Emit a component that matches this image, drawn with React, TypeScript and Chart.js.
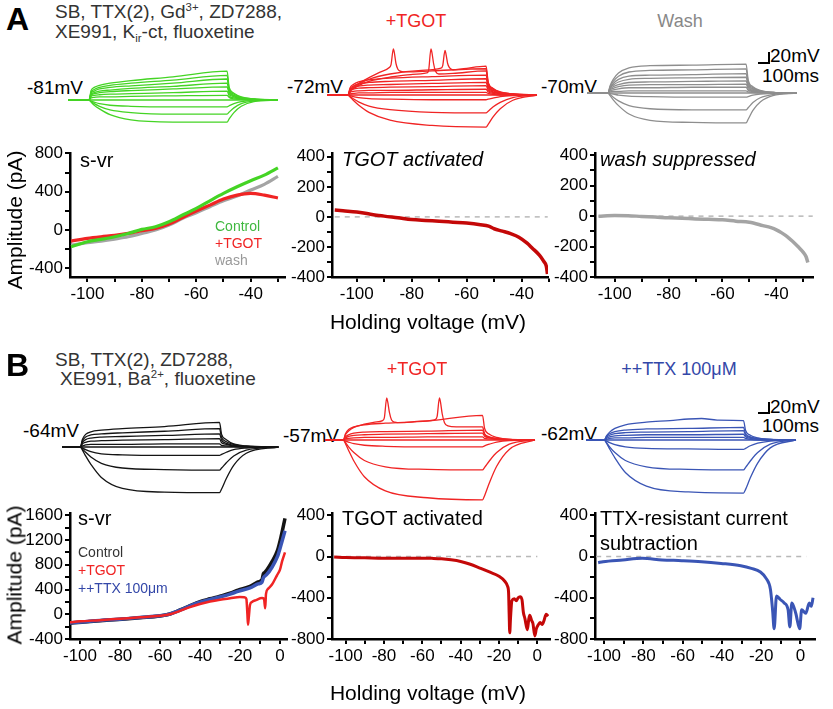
import React, { useEffect, useRef } from 'react';
import { Chart, registerables } from 'chart.js';
Chart.register(...registerables);

const FONT = "'Liberation Sans', Arial, Helvetica, sans-serif";
const PX_PER_MV = 0.525; // 20 mV scale bar = 10.5 px
const PX_PER_MS = 0.105; // 100 ms scale bar = 10.5 px

// ---------------- Voltage traces (deflection from holding potential, mV) ----------------
const tA = [0, 200, 220, 250, 300, 400, 600, 1000, 1515, 1535, 1580, 1650, 1770, 2000];

const greenTraces = [
  [0, 0, 18, 24, 28, 32, 37, 44, 55, 24, 13, 6, 2, 0],
  [0, 0, 15, 20, 24, 28, 32, 38, 47, 21, 11, 5, 2, 0],
  [0, 0, 13, 17, 21, 24, 27, 32, 40, 18, 9, 4, 1, 0],
  [0, 0, 11, 14, 17, 19, 22, 26, 32, 15, 8, 3, 1, 0],
  [0, 0, 9, 12, 14, 16, 18, 21, 25, 12, 6, 3, 1, 0],
  [0, 0, 7, 9, 10, 11, 12, 14, 17, 8, 4, 2, 0, 0],
  [0, 0, 4, 5, 6, 6, 7, 8, 9, 5, 2, 1, 0, 0],
  [0, 0, 0, 0, 0, 0, 0, 0, 0, 0, 0, 0, 0, 0],
  [0, 0, -2, -4, -7, -10, -12, -13, -13, -11, -7, -3, -1, 0],
  [0, 0, -3, -7, -12, -19, -24, -27, -27, -23, -15, -7, -2, 0],
  [0, 0, -4, -10, -17, -28, -38, -42, -42, -36, -24, -12, -3, 0],
];

const redATraces = [
  [0, 0, 14, 20, 25, 29, 32, 35, 38, 18, 9, 4, 1, 0],
  [0, 0, 12, 17, 21, 24, 26, 28, 31, 15, 8, 3, 1, 0],
  [0, 0, 10, 14, 17, 19, 20, 22, 24, 12, 6, 3, 1, 0],
  [0, 0, 8, 11, 13, 14, 15, 16, 18, 9, 5, 2, 0, 0],
  [0, 0, 5, 7, 8, 9, 9, 10, 11, 6, 3, 1, 0, 0],
  [0, 0, 2, 3, 4, 4, 5, 5, 5, 3, 1, 0, 0, 0],
  [0, 0, 0, 0, 0, 0, 0, 0, 0, 0, 0, 0, 0, 0],
  [0, 0, -1, -3, -5, -7, -8, -9, -9, -8, -6, -3, -1, 0],
  [0, 0, -3, -7, -13, -21, -28, -33, -34, -31, -23, -14, -5, 0],
  [0, 0, -4, -10, -19, -33, -48, -58, -61, -56, -42, -26, -10, 0],
];

const spikeA1T = [0, 200, 220, 250, 300, 400, 500, 590, 610, 632, 642, 657, 675, 705, 760, 1000, 1515, 1535, 1580, 1650, 1770, 2000];
const spikeA1V = [0, 0, 9, 15, 22, 33, 43, 52, 58, 88, 80, 60, 49, 45, 44, 46, 50, 23, 12, 5, 2, 0];
const spikeA2T = [0, 200, 220, 250, 300, 400, 600, 800, 950, 968, 990, 1000, 1015, 1032, 1065, 1200, 1515, 1535, 1580, 1650, 1770, 2000];
const spikeA2V = [0, 0, 7, 12, 18, 26, 34, 39, 42, 47, 88, 80, 60, 46, 40, 41, 46, 21, 11, 5, 2, 0];
const spikeA3T = [0, 200, 220, 250, 300, 400, 600, 900, 1085, 1102, 1124, 1134, 1149, 1166, 1200, 1300, 1515, 1535, 1580, 1650, 1770, 2000];
const spikeA3V = [0, 0, 8, 13, 20, 30, 40, 47, 51, 56, 85, 77, 60, 52, 48, 50, 55, 25, 13, 6, 2, 0];

const grayTraces = [
  [0, 0, 14, 26, 38, 48, 52, 53, 55, 25, 12, 5, 1, 0],
  [0, 0, 12, 22, 32, 40, 43, 44, 46, 21, 10, 4, 1, 0],
  [0, 0, 10, 18, 26, 32, 34, 35, 37, 17, 8, 3, 1, 0],
  [0, 0, 9, 15, 21, 26, 28, 29, 30, 14, 7, 3, 1, 0],
  [0, 0, 7, 12, 16, 20, 21, 22, 23, 11, 5, 2, 0, 0],
  [0, 0, 6, 9, 12, 15, 16, 16, 17, 8, 4, 2, 0, 0],
  [0, 0, 4, 6, 8, 10, 10, 11, 11, 5, 3, 1, 0, 0],
  [0, 0, 2, 3, 3, 4, 4, 4, 4, 2, 1, 0, 0, 0],
  [0, 0, 0, 0, 0, 0, 0, 0, 0, 0, 0, 0, 0, 0],
  [0, 0, -1, -2, -4, -6, -7, -8, -8, -7, -4, -2, -1, 0],
  [0, 0, -3, -8, -15, -24, -30, -32, -32, -28, -18, -9, -3, 0],
  [0, 0, -5, -13, -24, -40, -52, -56, -57, -50, -33, -17, -5, 0],
];

const tB = [0, 175, 195, 225, 275, 375, 575, 975, 1500, 1520, 1565, 1635, 1755, 2000];
const tBlack = [0, 175, 195, 225, 275, 375, 575, 975, 1500, 1520, 1565, 1635, 1755, 2060];

const blackTraces = [
  [0, 0, 15, 24, 29, 32, 35, 39, 47, 24, 14, 6, 2, 0],
  [0, 0, 12, 19, 23, 25, 27, 30, 35, 18, 10, 5, 1, 0],
  [0, 0, 9, 14, 17, 19, 20, 22, 25, 13, 7, 3, 1, 0],
  [0, 0, 6, 9, 11, 12, 13, 14, 16, 8, 5, 2, 1, 0],
  [0, 0, 2, 4, 5, 5, 5, 6, 6, 3, 2, 1, 0, 0],
  [0, 0, 0, 0, 0, 0, 0, 0, 0, 0, 0, 0, 0, 0],
  [0, 0, -2, -5, -9, -13, -15, -16, -16, -14, -10, -5, -2, 0],
  [0, 0, -4, -10, -19, -31, -40, -43, -44, -40, -30, -17, -6, 0],
  [0, 0, -6, -17, -33, -58, -79, -86, -87, -80, -60, -35, -12, 0],
];

const redBTraces = [
  [0, 0, 12, 20, 25, 29, 32, 36, 47, 22, 11, 5, 1, 0],
  [0, 0, 6, 10, 13, 15, 16, 17, 19, 10, 5, 2, 1, 0],
  [0, 0, 4, 7, 9, 10, 11, 12, 13, 7, 4, 2, 0, 0],
  [0, 0, 2, 3, 4, 5, 5, 6, 6, 3, 2, 1, 0, 0],
  [0, 0, 0, 0, 0, 0, 0, 0, 0, 0, 0, 0, 0, 0],
  [0, 0, -2, -4, -7, -10, -12, -13, -13, -11, -8, -4, -1, 0],
  [0, 0, -5, -13, -24, -39, -51, -56, -57, -52, -40, -24, -8, 0],
  [0, 0, -7, -20, -40, -70, -97, -110, -114, -106, -82, -50, -18, 0],
];
const spikeBT = [0, 175, 195, 225, 275, 375, 475, 548, 565, 588, 598, 614, 634, 665, 720, 850, 1000, 1050, 1068, 1090, 1100, 1116, 1138, 1170, 1250, 1500, 1520, 1565, 1635, 1755, 2000];
const spikeBV = [0, 0, 10, 17, 24, 30, 34, 37, 42, 80, 72, 52, 38, 34, 33, 35, 37, 39, 45, 80, 72, 50, 33, 27, 25, 25, 12, 6, 3, 1, 0];

const blueTopT = [0, 175, 195, 225, 275, 375, 575, 800, 975, 1100, 1250, 1500, 1520, 1565, 1635, 1755, 2000];
const blueTopV = [0, 0, 8, 15, 22, 29, 34, 37, 40, 41, 38, 37, 18, 9, 4, 1, 0];
const blueTraces = [
  [0, 0, 7, 12, 16, 19, 21, 22, 24, 12, 6, 3, 1, 0],
  [0, 0, 5, 9, 12, 14, 15, 16, 18, 9, 5, 2, 1, 0],
  [0, 0, 3, 6, 8, 9, 10, 10, 11, 6, 3, 1, 0, 0],
  [0, 0, 1, 3, 4, 4, 5, 5, 5, 3, 1, 0, 0, 0],
  [0, 0, 0, 0, 0, 0, 0, 0, 0, 0, 0, 0, 0, 0],
  [0, 0, -2, -5, -9, -13, -16, -17, -18, -16, -11, -6, -2, 0],
  [0, 0, -5, -13, -24, -39, -51, -56, -57, -52, -40, -24, -8, 0],
  [0, 0, -6, -17, -34, -62, -88, -99, -101, -94, -72, -44, -15, 0],
];

// ---------------- I-V data (holding voltage mV, amplitude pA) ----------------
const a1X = [-106, -100, -95, -90, -85, -80, -75, -70, -65, -60, -55, -50, -45, -40, -35, -30];
const a1Control = [-174, -122, -97, -70, -35, 7, 35, 87, 157, 226, 306, 383, 452, 515, 574, 650];
const a1TGOT = [-115, -87, -70, -56, -35, -7, 17, 63, 132, 198, 261, 324, 365, 383, 365, 335];
const a1Wash = [-157, -132, -115, -94, -70, -35, 0, 52, 122, 181, 244, 306, 355, 418, 477, 560];

const a2X = [-108, -105, -100, -95, -90, -85, -80, -75, -70, -65, -60, -55, -52, -50, -47, -44, -41, -38, -36, -34, -33, -32, -31, -30.6];
const a2Y = [45, 40, 32, 18, 5, -6, -18, -24, -29, -35, -41, -52, -62, -79, -95, -112, -135, -175, -210, -245, -267, -295, -330, -380];

const a3X = [-106, -100, -95, -90, -85, -80, -75, -70, -65, -60, -55, -50, -45, -42, -40, -38, -36, -34, -32, -30, -29, -28.3];
const a3Y = [0, 4, 3, -2, -6, -11, -14, -18, -21, -24, -33, -40, -62, -76, -90, -110, -134, -165, -200, -238, -265, -305];

const b1X = [-105, -99, -90, -79, -70, -60, -55, -50, -45, -40, -35, -30, -25, -21, -15, -11, -9, -8.3, -7.5, -6.7, -4, -1.3, 0.5, 2.5];
const b1Control = [-144, -128, -105, -80, -55, -27, 5, 69, 140, 205, 250, 293, 340, 389, 450, 522, 560, 656, 680, 709, 850, 1029, 1250, 1550];
const b1TTX = [-140, -125, -100, -78, -52, -25, 5, 65, 135, 195, 240, 280, 325, 370, 425, 490, 520, 590, 620, 640, 760, 930, 1120, 1350];
const b1TGOTX = [-105, -100, -90, -80, -70, -60, -55, -50, -45, -40, -35, -30, -25, -20, -17.5, -16.8, -16.3, -16, -15.6, -15, -14, -12, -9, -8, -7.4, -7, -6, -4, -1.5, 0, 1, 2.5];
const b1TGOT = [-130, -115, -95, -72, -50, -25, 0, 55, 115, 165, 205, 235, 258, 280, 272, 245, 0, -170, -50, 150, 200, 228, 262, 250, 96, 330, 410, 480, 630, 720, 850, 1000];

const b2X = [-106, -100, -90, -80, -70, -60, -55, -50, -45, -40, -35, -30, -25, -20, -17, -15.5, -15, -14.7, -14.4, -14, -13.3, -12, -11, -10, -9, -8, -7.3, -6.5, -5.2, -4.5, -4, -3, -2.3, -1.3, -0.5, 0.6, 1.5, 2.5, 3.5, 4.6, 5.6];
const b2Y = [-5, -10, -13, -16, -16, -16, -18, -22, -32, -48, -75, -112, -150, -192, -240, -290, -350, -560, -740, -600, -430, -410, -430, -400, -390, -420, -540, -600, -710, -610, -570, -620, -650, -770, -700, -660, -640, -660, -620, -560, -580];

const b3X = [-103, -100.5, -90.5, -80.5, -70.4, -60.4, -50.4, -40.4, -30.4, -25, -20.4, -17.3, -15.3, -14.2, -13.4, -12.2, -10.3, -8.3, -6.3, -5.4, -4.4, -2.4, -0.4, 0.6, 2.7, 4.5, 5.5, 6.4];
const b3Y = [-60, -50, -33, -17, -33, -40, -50, -67, -90, -115, -150, -217, -317, -517, -700, -383, -417, -450, -517, -683, -450, -550, -700, -517, -550, -450, -483, -400];

// axis ticks
const aXTicks = [-100, -90, -80, -70, -60, -50, -40, -30];
const aXLabels = [-100, -80, -60, -40];
const bXTicks = [-100, -90, -80, -70, -60, -50, -40, -30, -20, -10, 0];
const bXLabels = [-100, -80, -60, -40, -20, 0];
const a1YTicks = [-400, -200, 0, 200, 400, 600, 800];
const a1YLabels = [-400, 0, 400, 800];
const a23YTicks = [-400, -300, -200, -100, 0, 100, 200, 300, 400];
const a23YLabels = [-400, -200, 0, 200, 400];
const b1YTicks = [-400, -200, 0, 200, 400, 600, 800, 1000, 1200, 1400, 1600];
const b1YLabels = [-400, 0, 400, 800, 1200, 1600];
const b23YTicks = [-800, -600, -400, -200, 0, 200, 400];
const b23YLabels = [-800, -400, 0, 400];

const GREEN = '#44d424';
const RED = '#f02424';
const DARKRED = '#c40808';
const GRAY = '#8e8e8e';
const LGRAY = '#a4a4a4';
const BLUE = '#3a55b5';
const BLACK = '#141414';

type Series = { t: number[]; v: number[] };

function TraceChart({ left, base, series, color }: { left: number; base: number; series: Series[]; color: string }) {
  const ref = useRef<HTMLCanvasElement>(null);
  const up = 62, down = 72;
  const w = 222;
  const h = up + down;
  useEffect(() => {
    const chart = new Chart(ref.current as HTMLCanvasElement, {
      type: 'scatter',
      data: {
        datasets: series.map((s) => ({
          data: s.t.map((t, i) => ({ x: t, y: s.v[i] })),
          showLine: true,
          borderColor: color,
          borderWidth: 1.3,
          pointRadius: 0,
          cubicInterpolationMode: 'monotone',
          fill: false,
        })),
      },
      options: {
        responsive: false,
        animation: false,
        events: [],
        layout: { padding: 0 },
        plugins: { legend: { display: false }, tooltip: { enabled: false } },
        scales: {
          x: { type: 'linear', display: false, min: 0, max: w / PX_PER_MS },
          y: { type: 'linear', display: false, min: -down / PX_PER_MV, max: up / PX_PER_MV },
        },
      },
    } as any);
    return () => chart.destroy();
  }, []);
  return <canvas ref={ref} width={w} height={h} style={{ position: 'absolute', left, top: base - up, width: w, height: h }} />;
}

type IVSet = { x: number[]; y: number[]; color: string; width?: number; dash?: number[] };

function IVChart(props: {
  g: { left: number; top: number; right: number; bottom: number };
  xr: [number, number]; yr: [number, number];
  xt: number[]; xl: number[]; yt: number[]; yl: number[];
  sets: IVSet[];
}) {
  const { g, xr, yr, xt, xl, yt, yl, sets } = props;
  const ref = useRef<HTMLCanvasElement>(null);
  const padL = 60, padT = 14, padR = 14, padB = 34;
  const w = g.right - g.left + padL + padR;
  const h = g.bottom - g.top + padT + padB;
  useEffect(() => {
    const axisCommon = {
      type: 'linear',
      grid: { display: true, drawOnChartArea: false, drawTicks: true, tickLength: 5, tickWidth: 2, tickColor: '#000', color: '#000', lineWidth: 2 },
      border: { display: true, color: '#000', width: 2.5 },
    };
    const chart = new Chart(ref.current as HTMLCanvasElement, {
      type: 'scatter',
      data: {
        datasets: sets.map((s) => ({
          data: s.x.map((x, i) => ({ x, y: s.y[i] })),
          showLine: true,
          borderColor: s.color,
          borderWidth: s.width ?? 3.2,
          borderDash: s.dash ?? [],
          pointRadius: 0,
          cubicInterpolationMode: s.dash ? 'default' : 'monotone',
          fill: false,
        })),
      },
      options: {
        responsive: false,
        animation: false,
        events: [],
        layout: { padding: { left: 0, top: padT, right: padR, bottom: 0 } },
        plugins: { legend: { display: false }, tooltip: { enabled: false } },
        scales: {
          x: {
            ...axisCommon,
            min: xr[0], max: xr[1],
            afterBuildTicks: (s: any) => { s.ticks = xt.map((v) => ({ value: v })); },
            afterFit: (s: any) => { s.height = padB; s.paddingLeft = 0; s.paddingRight = 0; },
            ticks: { autoSkip: false, maxRotation: 0, padding: 2, color: '#000', font: { family: FONT, size: 17 }, callback: (v: number) => (xl.includes(v) ? String(v) : '') },
          },
          y: {
            ...axisCommon,
            min: yr[0], max: yr[1],
            afterBuildTicks: (s: any) => { s.ticks = yt.map((v) => ({ value: v })); },
            afterFit: (s: any) => { s.width = padL; s.paddingTop = 0; s.paddingBottom = 0; },
            ticks: { autoSkip: false, padding: 2, color: '#000', font: { family: FONT, size: 17 }, callback: (v: number) => (yl.includes(v) ? String(v) : '') },
          },
        },
      },
    } as any);
    return () => chart.destroy();
  }, []);
  return <canvas ref={ref} width={w} height={h} style={{ position: 'absolute', left: g.left - padL, top: g.top - padT, width: w, height: h }} />;
}

function Txt({ x, y, s = 19, c = '#000', center = false, it = false, b = false, children }: any) {
  const style: any = {
    position: 'absolute', left: x, top: y - 0.85 * s, fontSize: s, lineHeight: 1, color: c,
    fontFamily: FONT, whiteSpace: 'nowrap', fontStyle: it ? 'italic' : 'normal', fontWeight: b ? 'bold' : 'normal',
  };
  if (center) style.transform = 'translateX(-50%)';
  return <div style={style}>{children}</div>;
}

function VTxt({ cx, cy, s = 21, children }: any) {
  return (
    <div style={{ position: 'absolute', left: cx, top: cy, transform: 'translate(-50%,-50%) rotate(-90deg)', fontSize: s, lineHeight: 1, fontFamily: FONT, whiteSpace: 'nowrap', color: '#000' }}>
      {children}
    </div>
  );
}

const Sup = ({ children }: any) => <span style={{ fontSize: '0.6em', position: 'relative', top: '-0.6em' }}>{children}</span>;
const Sub = ({ children }: any) => <span style={{ fontSize: '0.6em', position: 'relative', top: '0.35em' }}>{children}</span>;

function ScaleBar({ x, y }: { x: number; y: number }) {
  return (
    <>
      <div style={{ position: 'absolute', left: x, top: y - 1, width: 12, height: 2, background: '#000' }} />
      <div style={{ position: 'absolute', left: x + 10, top: y - 11, width: 2, height: 11, background: '#000' }} />
    </>
  );
}

const fam = (arr: number[][], t: number[]): Series[] => arr.map((v) => ({ t, v }));

export default function App() {
  const greenS = fam(greenTraces, tA);
  const redAS = [...fam(redATraces, tA), { t: spikeA1T, v: spikeA1V }, { t: spikeA2T, v: spikeA2V }, { t: spikeA3T, v: spikeA3V }];
  const grayS = fam(grayTraces, tA);
  const blackS = fam(blackTraces, tBlack);
  const redBS = [...fam(redBTraces, tB), { t: spikeBT, v: spikeBV }];
  const blueS = [{ t: blueTopT, v: blueTopV }, ...fam(blueTraces, tB)];

  return (
    <div style={{ position: 'absolute', left: 0, top: 0, width: 833, height: 709, overflow: 'hidden', background: '#fff', fontFamily: FONT }}>
      {/* Panel A headings */}
      <Txt x={6} y={30} s={32} b>A</Txt>
      <Txt x={55} y={18} s={19} c="#333">SB, TTX(2), Gd<Sup>3+</Sup>, ZD7288,</Txt>
      <Txt x={55} y={38} s={19} c="#333">XE991, K<Sub>ir</Sub>-ct, fluoxetine</Txt>
      <Txt x={416} y={27} s={18} c={RED} center>+TGOT</Txt>
      <Txt x={680} y={27} s={18} c="#888" center>Wash</Txt>

      <Txt x={27} y={94} s={19}>-81mV</Txt>
      <Txt x={287} y={93} s={19}>-72mV</Txt>
      <Txt x={541} y={93} s={19}>-70mV</Txt>
      <ScaleBar x={758} y={63} />
      <Txt x={770} y={62} s={19}>20mV</Txt>
      <Txt x={762} y={82} s={19}>100ms</Txt>

      <TraceChart left={68} base={100} series={greenS} color={GREEN} />
      <TraceChart left={327} base={95} series={redAS} color={RED} />
      <TraceChart left={587} base={93} series={grayS} color={GRAY} />

      <IVChart g={{ left: 70, top: 153, right: 285, bottom: 277 }} xr={[-106.4, -27.4]} yr={[-490, 805]}
        xt={aXTicks} xl={aXLabels} yt={a1YTicks} yl={a1YLabels}
        sets={[
          { x: a1X, y: a1Control, color: GREEN },
          { x: a1X, y: a1TGOT, color: RED },
          { x: a1X, y: a1Wash, color: LGRAY },
        ]} />
      <IVChart g={{ left: 332, top: 153, right: 548, bottom: 277 }} xr={[-109, -30.4]} yr={[-400, 425]}
        xt={aXTicks} xl={aXLabels} yt={a23YTicks} yl={a23YLabels}
        sets={[
          { x: a2X, y: a2Y, color: DARKRED, width: 3.5 },
          { x: [-108, -30.5], y: [0, 0], color: '#b8b8b8', width: 1.5, dash: [5, 5] },
        ]} />
      <IVChart g={{ left: 595, top: 153, right: 813, bottom: 277 }} xr={[-107.3, -26.4]} yr={[-400, 415]}
        xt={aXTicks} xl={aXLabels} yt={a23YTicks} yl={a23YLabels}
        sets={[
          { x: a3X, y: a3Y, color: LGRAY, width: 3.5 },
          { x: [-106, -26.5], y: [0, 0], color: '#b8b8b8', width: 1.5, dash: [5, 5] },
        ]} />

      <Txt x={80} y={167} s={20}>s-vr</Txt>
      <Txt x={215} y={231} s={14} c="#3fb83f">Control</Txt>
      <Txt x={215} y={248} s={14} c={RED}>+TGOT</Txt>
      <Txt x={215} y={265} s={14} c="#999">wash</Txt>
      <Txt x={342} y={166} s={20} it>TGOT activated</Txt>
      <Txt x={600} y={166} s={20} it>wash suppressed</Txt>
      <VTxt cx={14} cy={220}>Amplitude (pA)</VTxt>
      <Txt x={428} y={329} s={21} center>Holding voltage (mV)</Txt>

      {/* Panel B */}
      <Txt x={6} y={376} s={32} b>B</Txt>
      <Txt x={55} y={366} s={19} c="#333">SB, TTX(2), ZD7288,</Txt>
      <Txt x={60} y={385} s={19} c="#333">XE991, Ba<Sup>2+</Sup>, fluoxetine</Txt>
      <Txt x={417} y={375} s={18} c={RED} center>+TGOT</Txt>
      <Txt x={679} y={375} s={18} c="#3347a8" center>++TTX 100μM</Txt>

      <Txt x={23} y={437} s={19}>-64mV</Txt>
      <Txt x={283} y={442} s={19}>-57mV</Txt>
      <Txt x={541} y={440} s={19}>-62mV</Txt>
      <ScaleBar x={758} y={413} />
      <Txt x={770} y={413} s={19}>20mV</Txt>
      <Txt x={762} y={432} s={19}>100ms</Txt>

      <TraceChart left={62} base={447} series={blackS} color={BLACK} />
      <TraceChart left={325} base={440} series={redBS} color={RED} />
      <TraceChart left={586} base={440} series={blueS} color={BLUE} />

      <IVChart g={{ left: 70, top: 513, right: 287, bottom: 639 }} xr={[-105, 3.5]} yr={[-400, 1637]}
        xt={bXTicks} xl={bXLabels} yt={b1YTicks} yl={b1YLabels}
        sets={[
          { x: b1TGOTX, y: b1TGOT, color: RED, width: 2.5 },
          { x: b1X, y: b1TTX, color: BLUE, width: 3.5 },
          { x: b1X, y: b1Control, color: BLACK, width: 3.5 },
        ]} />
      <IVChart g={{ left: 332, top: 513, right: 550, bottom: 639 }} xr={[-107.1, 6.6]} yr={[-800, 422]}
        xt={bXTicks} xl={bXLabels} yt={b23YTicks} yl={b23YLabels}
        sets={[
          { x: b2X, y: b2Y, color: DARKRED, width: 3 },
          { x: [-105, 0], y: [0, 0], color: '#b8b8b8', width: 1.5, dash: [5, 5] },
        ]} />
      <IVChart g={{ left: 595, top: 513, right: 815, bottom: 639 }} xr={[-104.6, 7.4]} yr={[-800, 422]}
        xt={bXTicks} xl={bXLabels} yt={b23YTicks} yl={b23YLabels}
        sets={[
          { x: b3X, y: b3Y, color: BLUE, width: 3 },
          { x: [-104, 3], y: [0, 0], color: '#b8b8b8', width: 1.5, dash: [5, 5] },
        ]} />

      <Txt x={78} y={525} s={20}>s-vr</Txt>
      <Txt x={78} y={557} s={14} c="#333">Control</Txt>
      <Txt x={78} y={575} s={14} c={RED}>+TGOT</Txt>
      <Txt x={78} y={593} s={14} c="#3347a8">++TTX 100μm</Txt>
      <Txt x={342} y={525} s={20}>TGOT activated</Txt>
      <Txt x={600} y={525} s={20}>TTX-resistant current</Txt>
      <Txt x={600} y={550} s={20}>subtraction</Txt>
      <VTxt cx={14} cy={575}>Amplitude (pA)</VTxt>
      <Txt x={428} y={700} s={21} center>Holding voltage (mV)</Txt>
    </div>
  );
}
